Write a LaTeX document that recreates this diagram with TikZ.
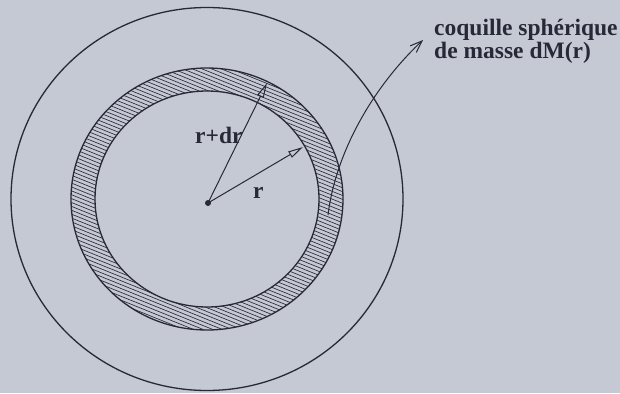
\documentclass[tikz,border=0pt]{standalone}
\usepackage{fontspec}
\setmainfont{Liberation Serif}
\usetikzlibrary{arrows.meta, positioning}
\definecolor{ink}{RGB}{40,41,56}
\definecolor{paper}{RGB}{197,201,212}

\begin{document}
\begin{tikzpicture}[
    x=1pt, y=-1pt,
    shell/.style={draw=ink, line width=1.3pt},
    hatch/.style={draw=ink, line width=0.65pt},
    radarrow/.style={draw=ink, line width=1pt, -{Triangle[open, length=15pt, width=7pt]}},
    pointer/.style={draw=ink, line width=1pt, -{Straight Barb[length=12pt, width=9pt]}},
    lbl/.style={text=ink, inner sep=0pt, font=\bfseries\fontsize{23.5}{23}\selectfont}
]

\fill[paper] (0,0) rectangle (620,393);
\useasboundingbox (0,0) rectangle (620,393);

\coordinate (c) at (207,199);
\coordinate (centre) at (208,203);

\begin{scope}[even odd rule]
  \clip (c) ellipse [x radius=136, y radius=131] (c) ellipse [x radius=112, y radius=108];
  \begin{scope}[shift={(c)}, rotate=-22]
    \foreach \k in {-42,...,42}
      \draw[hatch] (-165,\k*3.6) -- (165,\k*3.6);
  \end{scope}
\end{scope}

\draw[shell] (c) ellipse [x radius=196, y radius=191.5];
\draw[shell] (c) ellipse [x radius=136, y radius=131];
\draw[shell] (c) ellipse [x radius=112, y radius=108];

\fill[ink] (centre) circle [radius=3];

\coordinate (rim out) at (267,83);
\coordinate (rim in) at (303,147);
\draw[radarrow] (centre) -- (rim out);
\draw[radarrow] (centre) -- (rim in);

\node[lbl, anchor=base west] (rdr) at (195,143) {r+dr};
\node[lbl, anchor=base west] (r) at (253,198) {r};

\node[lbl, anchor=west, align=left] (shell label) at (434,41) {coquille sphérique\\de masse dM(r)};
\coordinate (in shell) at (328,215);
\coordinate (tip) at (423,40);
\draw[pointer] (in shell) .. controls (336,150) and (375,85) .. (tip);

\end{tikzpicture}
\end{document}
